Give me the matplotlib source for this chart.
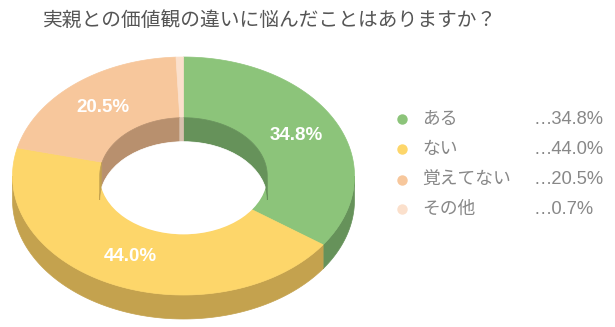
import numpy as np
import matplotlib.pyplot as plt
from matplotlib.patches import Polygon, Ellipse

plt.rcParams['font.family'] = ['Noto Sans CJK JP', 'DejaVu Sans']

# データ
labels = ['ある', 'ない', '覚えてない', 'その他']
values = [34.8, 44.0, 20.5, 0.7]
top_colors = ['#8cc47a', '#fdd66a', '#f7c79c', '#fbe0cc']
side_colors = ['#66925a', '#c4a24e', '#b8906e', '#d8c0ae']
title = '実親との価値観の違いに悩んだことはありますか？'

# ドーナツの形（ピクセル座標）
cx, cy = 183.5, 176.0
rx, ry = 171.0, 119.0
hole = 0.49
depth = 24.0


def arc(t1, t2, scale, dy=0.0, n=120):
    t = np.radians(np.linspace(t1, t2, n))
    return np.column_stack([cx + rx * scale * np.cos(t),
                            cy + dy - ry * scale * np.sin(t)])


fig = plt.figure(figsize=(6.15, 3.27), dpi=100)
ax = fig.add_axes([0, 0, 1, 1])
ax.set_xlim(0, 615)
ax.set_ylim(327, 0)
ax.axis('off')

total = sum(values)
bounds = []
start = 90.0
for v in values:
    end = start - v / total * 360.0
    bounds.append((end, start))
    start = end

# 外側の側面（手前半分だけ見える）
for (a1, a2), c in zip(bounds, side_colors):
    for lo, hi in [(-180, 0), (180, 360)]:
        s, e = max(a1, lo), min(a2, hi)
        if s < e:
            top = arc(s, e, 1.0)
            bot = arc(e, s, 1.0, depth)
            ax.add_patch(Polygon(np.vstack([top, bot]), closed=True,
                                 facecolor=c, edgecolor=c, lw=0.5))

# 上面
for (a1, a2), c in zip(bounds, top_colors):
    outer = arc(a1, a2, 1.0)
    inner = arc(a2, a1, hole)
    ax.add_patch(Polygon(np.vstack([outer, inner]), closed=True,
                         facecolor=c, edgecolor=c, lw=0.5))

# 穴の内側の側面（奥半分）
for (a1, a2), c in zip(bounds, side_colors):
    for lo, hi in [(0, 180), (-360, -180)]:
        s, e = max(a1, lo), min(a2, hi)
        if s < e:
            top = arc(s, e, hole)
            bot = arc(e, s, hole, depth)
            ax.add_patch(Polygon(np.vstack([top, bot]), closed=True,
                                 facecolor=c, edgecolor=c, lw=0.5))

hole_clip = Ellipse((cx, cy), 2 * rx * hole, 2 * ry * hole,
                    transform=ax.transData, facecolor='none', edgecolor='none')
ax.add_patch(hole_clip)
floor = Ellipse((cx, cy + depth), 2 * rx * hole, 2 * ry * hole,
                facecolor='white', edgecolor='white', lw=0.5)
ax.add_patch(floor)
floor.set_clip_path(hole_clip)

# 割合ラベル
mid_r = (1 + hole) / 2
for (a1, a2), v in zip(bounds, values):
    if v < 5:
        continue
    m = np.radians((a1 + a2) / 2)
    ax.text(cx + rx * mid_r * np.cos(m), cy - ry * mid_r * np.sin(m),
            f'{v:.1f}%', color='white', fontsize=13.5, fontweight='bold',
            family=['Liberation Sans', 'DejaVu Sans'],
            ha='center', va='center')

# タイトル
ax.text(270, 20, title, fontsize=14.2, color='#555555', ha='center', va='center')

# 凡例
row_y = [119, 149, 180, 209]
for lab, v, c, y in zip(labels, values, top_colors, row_y):
    ax.plot(402, y, 'o', color=c, markersize=7.5, markeredgewidth=0)
    ax.text(422, y, lab, fontsize=12.8, color='#888888', va='center')
    ax.text(533, y, f'…{v:.1f}%', fontsize=13.2, color='#888888', va='center',
            family=['Liberation Sans', 'DejaVu Sans'])

fig.savefig('out.png', dpi=100)
